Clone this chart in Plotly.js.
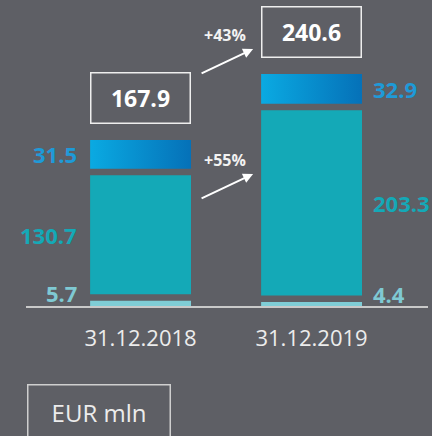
<!DOCTYPE html>
<html>
<head>
<meta charset="utf-8">
<script src="https://cdn.plot.ly/plotly-3.0.1.min.js"></script>
<style>
  html, body { margin: 0; padding: 0; background: #5e5f65; }
  #chart { width: 432px; height: 436px; }
</style>
</head>
<body>
<div id="chart"></div>
<script>
// ---- data ----
const categories = ['31.12.2018', '31.12.2019'];
const bottomValues = [5.7, 4.4];
const middleValues = [130.7, 203.3];
const topValues = [31.5, 32.9];
const totals = [167.9, 240.6];
const growthLabels = ['+43%', '+55%'];
const unitLabel = 'EUR mln';

// ---- style ----
const BG = '#5e5f65';
const C_BOTTOM = '#7fcdd6';
const C_MID = '#14a9b7';
const C_TOP_L = '#0aaae2';
const C_TOP_R = '#0571b8';
const LBL_TOP = '#1e9ad8';
const LBL_MID = '#14a9b7';
const LBL_BOT = '#7fc9d3';
const BAR_W = 0.59;
const Y_MAX = 336;
const PLOT_H = 306;
const GAP = 6.5 * Y_MAX / PLOT_H;   // gap between stacked segments in data units

const xs = categories.map((c, i) => i);
const baseMid = bottomValues.map(v => v + GAP);
const baseTop = bottomValues.map((v, i) => v + middleValues[i] + 2 * GAP);
const barTop = baseTop.map((b, i) => b + topValues[i]);

const traces = [
  {
    type: 'bar', x: xs, y: bottomValues, base: 0, width: BAR_W,
    marker: { color: C_BOTTOM, line: { width: 0 } }, hoverinfo: 'skip'
  },
  {
    type: 'bar', x: xs, y: middleValues, base: baseMid, width: BAR_W,
    marker: { color: C_MID, line: { width: 0 } }, hoverinfo: 'skip'
  }
];
// top segment with horizontal gradient
xs.forEach((x, i) => {
  const l = x - BAR_W / 2, r = x + BAR_W / 2;
  const b = baseTop[i], t = barTop[i];
  traces.push({
    type: 'scatter', mode: 'lines', fill: 'toself',
    x: [l, r, r, l, l], y: [b, b, t, t, b],
    line: { width: 0, color: 'rgba(0,0,0,0)' },
    fillcolor: C_TOP_R,
    fillgradient: { type: 'horizontal', colorscale: [[0, C_TOP_L], [1, C_TOP_R]] },
    hoverinfo: 'skip', showlegend: false
  });
});

const numFont = (size, color) => ({ family: 'Open Sans', size: size, color: color, weight: 700 });

const annotations = [];
xs.forEach((x, i) => {
  const left = i === 0;
  const ax = left ? x - BAR_W / 2 : x + BAR_W / 2;
  const xanchor = left ? 'right' : 'left';
  const xshift = left ? -11 : 9;
  annotations.push({
    x: ax, y: baseTop[i] + topValues[i] / 2, xref: 'x', yref: 'y',
    text: '<b>' + topValues[i].toFixed(1) + '</b>', showarrow: false,
    xanchor: xanchor, yanchor: 'middle', xshift: xshift,
    font: numFont(22, LBL_TOP)
  });
  annotations.push({
    x: ax, y: baseMid[i] + middleValues[i] / 2, xref: 'x', yref: 'y',
    text: '<b>' + middleValues[i].toFixed(1) + '</b>', showarrow: false,
    xanchor: xanchor, yanchor: 'middle', xshift: xshift,
    font: numFont(22, LBL_MID)
  });
  annotations.push({
    x: ax, y: bottomValues[i] / 2, xref: 'x', yref: 'y',
    text: '<b>' + bottomValues[i].toFixed(1) + '</b>', showarrow: false,
    xanchor: xanchor, yanchor: 'middle', xshift: xshift, yshift: 10,
    font: numFont(22, LBL_BOT)
  });
  // total boxes
  annotations.push({
    x: x, y: barTop[i], xref: 'x', yref: 'y',
    text: '<b>' + totals[i].toFixed(1) + '</b>', showarrow: false,
    xanchor: 'center', yanchor: 'bottom', yshift: 16,
    width: 98, height: 49, borderwidth: 1.5, borderpad: 0,
    bordercolor: '#eeeeee', font: numFont(23, '#ffffff')
  });
});

// growth arrows and labels (between the two bars)
const arrowHeads = [[0.658, 282.2], [0.658, 144.9]];
arrowHeads.forEach((h, k) => {
  annotations.push({
    x: h[0], y: h[1], xref: 'x', yref: 'y', text: '', showarrow: true,
    ax: -53, ay: 25, arrowhead: 2, arrowsize: 1, arrowwidth: 2,
    arrowcolor: '#ffffff', standoff: 0, startstandoff: 0
  });
  annotations.push({
    x: 0.494, y: h[1], xref: 'x', yref: 'y', text: '<b>' + growthLabels[k] + '</b>',
    showarrow: false, xanchor: 'center', yanchor: 'middle', yshift: 14,
    font: numFont(16, '#f2f2f2')
  });
});

// unit box
annotations.push({
  x: 0, y: 0, xref: 'paper', yref: 'paper', text: unitLabel, showarrow: false,
  xanchor: 'left', yanchor: 'top', xshift: 1, yshift: -78,
  width: 141, height: 53, borderwidth: 1.5, borderpad: 0,
  bordercolor: '#cfcfcf',
  font: { family: 'Open Sans', size: 24, color: '#ececec' }
});

const layout = {
  width: 432, height: 436,
  margin: { l: 26, r: 4, t: 0, b: 130 },
  paper_bgcolor: BG, plot_bgcolor: BG,
  showlegend: false, barmode: 'overlay',
  xaxis: {
    range: [-0.670, 1.681], tickmode: 'array', tickvals: xs, ticktext: categories,
    showgrid: false, zeroline: false, showline: true, linecolor: '#c9c9c9', linewidth: 1.5,
    ticks: '', ticklabelstandoff: 12,
    tickfont: { family: 'Open Sans', size: 22, color: '#ececec' }, fixedrange: true
  },
  yaxis: {
    range: [0, Y_MAX], visible: false, showgrid: false, zeroline: false, fixedrange: true
  },
  annotations: annotations,
  hovermode: false
};

Plotly.newPlot('chart', traces, layout, { staticPlot: true, displayModeBar: false });
</script>
</body>
</html>
